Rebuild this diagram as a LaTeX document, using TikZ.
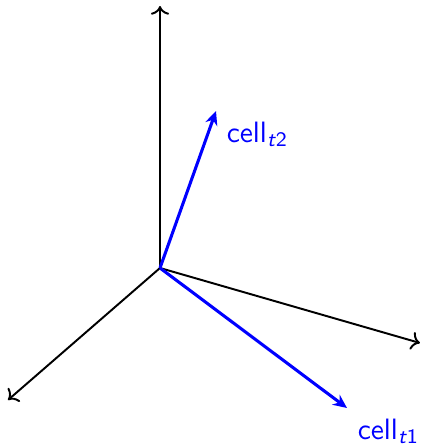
\documentclass[tikz,border=0pt]{standalone}
\usetikzlibrary{arrows.meta}
\begin{document}
\begin{tikzpicture}[x=0.36pt,y=0.36pt,font=\sffamily\fontsize{10.6}{13}\selectfont]
\useasboundingbox (0,0) rectangle (420,448);
\tikzset{axis/.style={black,line width=0.7pt,->},
         vec/.style={blue,line width=1.1pt,-{Stealth[length=5pt,width=4.5pt]}}}
\coordinate (o) at (160,180);
\coordinate (up) at (160,442);
\coordinate (right) at (420,105);
\coordinate (down) at (8,48);
\draw[axis] (o) -- (up);
\draw[axis] (o) -- (right);
\draw[axis] (o) -- (down);
\coordinate (t2) at (216,337);
\coordinate (t1) at (347,40);
\draw[vec] (o) -- (t2) node[below right,blue] (l2) {cell\textsubscript{\textit{t}2}};
\draw[vec] (o) -- (t1) node[below right,blue] (l1) {cell\textsubscript{\textit{t}1}};
\end{tikzpicture}
\end{document}
